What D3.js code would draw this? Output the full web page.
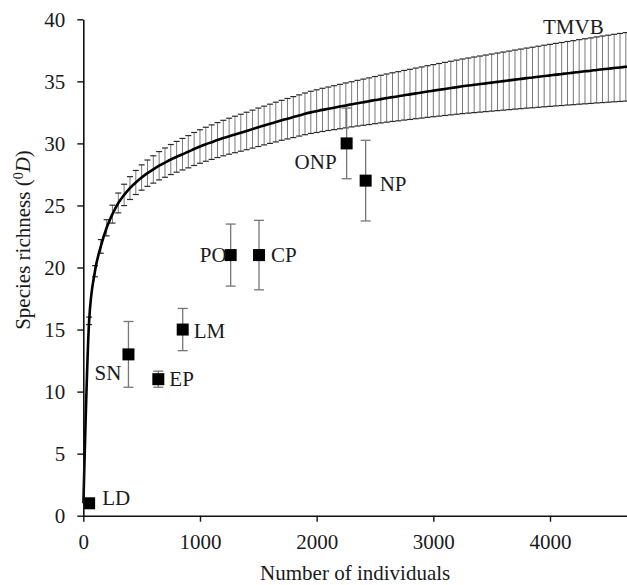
<!DOCTYPE html>
<html>
<head>
<meta charset="utf-8">
<script src="https://cdn.jsdelivr.net/npm/d3@7"></script>
<style>
  body { margin: 0; background: #fff; }
  svg text { font-family: "Liberation Serif", "Times New Roman", serif; fill: #1a1a1a; }
</style>
</head>
<body>
<svg id="chart" width="627" height="585"></svg>
<script>
// rarefaction curve (TMVB) - sample size, mean richness, error
const sampleSizes = [1,
  50, 100, 150, 200, 250, 300, 350, 400, 450, 500,
  550, 600, 650, 700, 750, 800, 850, 900, 950, 1000,
  1050, 1100, 1150, 1200, 1250, 1300, 1350, 1400, 1450, 1500,
  1550, 1600, 1650, 1700, 1750, 1800, 1850, 1900, 1950, 2000,
  2050, 2100, 2150, 2200, 2250, 2300, 2350, 2400, 2450, 2500,
  2550, 2600, 2650, 2700, 2750, 2800, 2850, 2900, 2950, 3000,
  3050, 3100, 3150, 3200, 3250, 3300, 3350, 3400, 3450, 3500,
  3550, 3600, 3650, 3700, 3750, 3800, 3850, 3900, 3950, 4000,
  4050, 4100, 4150, 4200, 4250, 4300, 4350, 4400, 4450, 4500,
  4550, 4600, 4650, 4700];
const meanRichness = [1,
  15.7, 19.7, 21.7, 23.2, 24.3, 25.2, 25.85, 26.4, 26.85, 27.25,
  27.6, 27.9, 28.2, 28.45, 28.7, 28.92, 29.13, 29.33, 29.55, 29.75,
  29.93, 30.1, 30.27, 30.43, 30.58, 30.72, 30.86, 31.0, 31.15, 31.3,
  31.44, 31.58, 31.72, 31.86, 31.99, 32.12, 32.25, 32.38, 32.5, 32.6,
  32.7, 32.79, 32.88, 32.97, 33.06, 33.15, 33.24, 33.32, 33.4, 33.49,
  33.57, 33.65, 33.73, 33.8, 33.88, 33.95, 34.03, 34.1, 34.18, 34.25,
  34.32, 34.39, 34.46, 34.53, 34.6, 34.66, 34.72, 34.78, 34.84, 34.9,
  34.96, 35.02, 35.08, 35.14, 35.2, 35.26, 35.31, 35.37, 35.43, 35.48,
  35.54, 35.59, 35.65, 35.7, 35.76, 35.81, 35.86, 35.92, 35.97, 36.02,
  36.07, 36.12, 36.17, 36.22];
const richnessErr = [0,
  0.3, 0.45, 0.55, 0.65, 0.72, 0.8, 0.86, 0.92, 0.97, 1.02,
  1.06, 1.1, 1.14, 1.18, 1.21, 1.24, 1.27, 1.3, 1.33, 1.35,
  1.37, 1.39, 1.41, 1.43, 1.45, 1.47, 1.49, 1.51, 1.53, 1.55,
  1.56, 1.58, 1.6, 1.61, 1.63, 1.65, 1.66, 1.68, 1.7, 1.72,
  1.74, 1.75, 1.77, 1.79, 1.81, 1.82, 1.84, 1.86, 1.88, 1.9,
  1.92, 1.94, 1.96, 1.98, 2.0, 2.02, 2.04, 2.06, 2.08, 2.1,
  2.12, 2.14, 2.16, 2.18, 2.2, 2.22, 2.24, 2.26, 2.28, 2.3,
  2.32, 2.34, 2.36, 2.38, 2.4, 2.42, 2.44, 2.46, 2.48, 2.5,
  2.52, 2.54, 2.56, 2.58, 2.6, 2.62, 2.64, 2.66, 2.68, 2.7,
  2.72, 2.74, 2.76, 2.78];

// individual sites
const siteNames = ["LD", "SN", "EP", "LM", "PO", "CP", "ONP", "NP"];
const siteIndividuals = [50, 387, 643, 852, 1263, 1506, 2257, 2420];
const siteRichness = [1, 13, 11, 15, 21, 21, 30, 27];
const siteErr = [0, 2.65, 0.65, 1.7, 2.5, 2.8, 2.85, 3.25];

const xTicks = [0, 1000, 2000, 3000, 4000];
const yTicks = [0, 5, 10, 15, 20, 25, 30, 35, 40];

// label placement next to each square (anchor, dx, dy)
const labelPos = {
  LD: ["start", 13, 2], SN: ["end", -7, 26], EP: ["start", 11, 7], LM: ["start", 11, 8],
  PO: ["end", -4, 7], CP: ["start", 12, 7], ONP: ["end", -10, 26], NP: ["start", 14, 10]
};

const curve = sampleSizes.map((n, i) => ({ n: n, s: meanRichness[i], e: richnessErr[i] }));
const sites = siteNames.map((name, i) => ({
  name: name, n: siteIndividuals[i], s: siteRichness[i], e: siteErr[i]
}));

const svg = d3.select("#chart");
const x = d3.scaleLinear().domain([0, 4660]).range([83.3, 627]);
const y = d3.scaleLinear().domain([0, 40]).range([515.7, 19.3]);

// curve error bars
const bars = svg.append("g").selectAll("g")
  .data(curve.filter(d => d.e > 0))
  .enter().append("g");
bars.append("line")
  .attr("x1", d => x(d.n)).attr("x2", d => x(d.n))
  .attr("y1", d => y(d.s + d.e)).attr("y2", d => y(d.s - d.e))
  .attr("stroke", "#7a7a7a").attr("stroke-width", 1);
bars.selectAll("line.cap")
  .data(d => [[d.n, d.s + d.e], [d.n, d.s - d.e]])
  .enter().append("line")
  .attr("class", "cap")
  .attr("x1", d => x(d[0]) - 3).attr("x2", d => x(d[0]) + 3)
  .attr("y1", d => y(d[1])).attr("y2", d => y(d[1]))
  .attr("stroke", "#2a2a2a").attr("stroke-width", 1.2);

// mean curve
svg.append("path")
  .datum(curve)
  .attr("fill", "none")
  .attr("stroke", "#000")
  .attr("stroke-width", 2.6)
  .attr("d", d3.line().x(d => x(d.n)).y(d => y(d.s)).curve(d3.curveMonotoneX));

svg.append("text")
  .attr("x", x(3940)).attr("y", y(38.85))
  .attr("font-size", 21)
  .text("TMVB");

// site error bars
const siteG = svg.append("g").selectAll("g")
  .data(sites)
  .enter().append("g");
siteG.filter(d => d.e > 0).append("line")
  .attr("x1", d => x(d.n)).attr("x2", d => x(d.n))
  .attr("y1", d => y(d.s + d.e)).attr("y2", d => y(d.s - d.e))
  .attr("stroke", "#777").attr("stroke-width", 1.3);
siteG.filter(d => d.e > 0).selectAll("line.cap")
  .data(d => [[d.n, d.s + d.e], [d.n, d.s - d.e]])
  .enter().append("line")
  .attr("class", "cap")
  .attr("x1", d => x(d[0]) - 5).attr("x2", d => x(d[0]) + 5)
  .attr("y1", d => y(d[1])).attr("y2", d => y(d[1]))
  .attr("stroke", "#777").attr("stroke-width", 1.3);
siteG.append("rect")
  .attr("x", d => x(d.n) - 6).attr("y", d => y(d.s) - 6)
  .attr("width", 12).attr("height", 12)
  .attr("fill", "#000");
siteG.append("text")
  .attr("x", d => x(d.n) + labelPos[d.name][1])
  .attr("y", d => y(d.s) + labelPos[d.name][2])
  .attr("text-anchor", d => labelPos[d.name][0])
  .attr("font-size", 21)
  .text(d => d.name);

// axes
const xAxis = svg.append("g")
  .attr("transform", `translate(0,${y(0)})`)
  .call(d3.axisBottom(x).tickValues(xTicks).tickFormat(d3.format("d"))
    .tickSize(6).tickSizeOuter(0).tickPadding(12));
const yAxis = svg.append("g")
  .attr("transform", `translate(${x(0)},0)`)
  .call(d3.axisLeft(y).tickValues(yTicks).tickSize(6).tickSizeOuter(0).tickPadding(12));
[xAxis, yAxis].forEach(a => {
  a.select(".domain").attr("stroke", "#111").attr("stroke-width", 1.6);
  a.selectAll(".tick line").attr("stroke", "#111").attr("stroke-width", 1.4);
  a.selectAll(".tick text")
    .attr("font-size", 21)
    .attr("font-family", "Liberation Serif, Times New Roman, serif")
    .attr("fill", "#1a1a1a");
});

svg.append("text")
  .attr("x", (x(0) + 627) / 2).attr("y", 580)
  .attr("text-anchor", "middle")
  .attr("font-size", 21)
  .text("Number of individuals");

const yTitle = svg.append("text")
  .attr("transform", "translate(30,240) rotate(-90)")
  .attr("text-anchor", "middle")
  .attr("font-size", 21);
yTitle.append("tspan").text("Species richness (");
yTitle.append("tspan").attr("font-size", 14).attr("baseline-shift", "super").text("0");
yTitle.append("tspan").attr("font-style", "italic").text("D");
yTitle.append("tspan").text(")");
</script>
</body>
</html>
